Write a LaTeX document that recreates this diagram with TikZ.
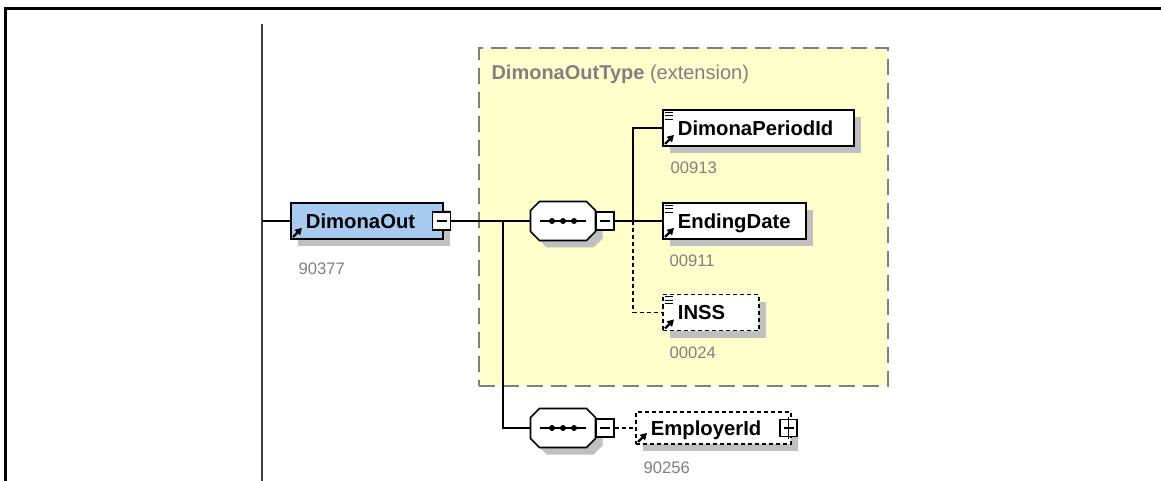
\documentclass[tikz,border=0pt]{standalone}
\usepackage{fontspec}
\setmainfont{Liberation Sans}
\usetikzlibrary{shadows,arrows.meta}

\definecolor{elemblue}{RGB}{166,202,240}
\definecolor{typeyellow}{RGB}{255,255,204}
\definecolor{shadegray}{RGB}{192,192,192}
\definecolor{idgray}{RGB}{128,128,128}

\tikzset{every picture/.style={line width=0.75pt}}
\tikzset{
  boxshade/.style={drop shadow={shadow xshift=5.25pt, shadow yshift=-5.25pt, fill=shadegray, opacity=1}},
  elembox/.style={draw, line width=1.4pt, fill=white, anchor=west, align=left, boxshade,
    inner xsep=11.25pt, inner ysep=0pt, minimum height=27pt, text height=10.8pt, text depth=0pt,
    font=\fontsize{15.2}{18}\selectfont\bfseries},
  optional/.style={dash pattern=on 3pt off 2.25pt},
  seqbox/.style={rectangle, minimum width=48pt, minimum height=28.5pt, inner sep=0pt},
  togglebox/.style={draw, line width=1.1pt, fill=white, minimum size=13.5pt, inner sep=0pt},
  idlabel/.style={anchor=west, text=idgray, inner sep=0pt, font=\fontsize{12.5}{15}\selectfont},
  wire/.style={line width=1.2pt}
}

% small glyphs inside the boxes
\newcommand{\refmark}[1]{\draw[line width=1.7pt, -{Triangle[length=5pt,width=5.5pt]}] ([shift={(3,-3)}]#1.south west) -- ([shift={(12,-12)}]#1.south west);}
\newcommand{\textmark}[1]{\foreach \dy in {3,6.5,10} \draw[line width=0.7pt] ([shift={(2.5,\dy)}]#1.north west) -- ([shift={(11,\dy)}]#1.north west);}
\newcommand{\seqshape}[1]{\draw[line width=1.3pt, fill=white, boxshade]
  ([shift={(9,0)}]#1.north west) -- ([shift={(-9,0)}]#1.north east) -- ([shift={(0,9)}]#1.north east)
  -- ([shift={(0,-9)}]#1.south east) -- ([shift={(-9,0)}]#1.south east) -- ([shift={(9,0)}]#1.south west)
  -- ([shift={(0,-9)}]#1.south west) -- ([shift={(0,9)}]#1.north west) -- cycle;
  \draw[line width=1.3pt] ([shift={(-23,0)}]#1.center) -- ([shift={(23,0)}]#1.center);
  \foreach \dx in {-11,0,11} \fill ([shift={(\dx,0)}]#1.center) circle (3);}
\newcommand{\minusmark}[1]{\draw[line width=1pt] ([shift={(-5,0)}]#1.center) -- ([shift={(5,0)}]#1.center);}
\newcommand{\plusmark}[1]{\minusmark{#1}\draw[line width=1pt] ([shift={(0,-11)}]#1.center) -- ([shift={(0,11)}]#1.center);}

\begin{document}
\begin{tikzpicture}[x=0.75pt,y=0.75pt,yscale=-1,xscale=1]
\useasboundingbox (0,0) rectangle (1161,481);

%Frame
\draw[line width=2.25pt] (5,481) -- (5,9) -- (1161,9);
%Root line
\draw[line width=1.5pt, black!75] (262,24) -- (262,481);
\coordinate (rootjoin) at (262,221);

%Shape: Rectangle (extension type)
\node[draw=idgray, dash pattern=on 12pt off 6pt, line width=1.5pt, fill=typeyellow, anchor=north west,
  minimum width=306.75pt, minimum height=253.5pt, inner sep=0pt] (outtype) at (478,47) {};
\node[anchor=west, text=idgray, inner sep=0pt, font=\fontsize{15}{18}\selectfont] (outtypelabel) at (491,74) {\textbf{DimonaOutType} (extension)};

%Junctions
\coordinate (forka) at (503,221);
\coordinate (forkb) at (633,221);

%Root element
\node[elembox, fill=elemblue, text width=91.5pt] (dimonaout) at (290,221) {DimonaOut};
\refmark{dimonaout}
\node[togglebox] (dimonaouttoggle) at (441.5,221) {};
\minusmark{dimonaouttoggle}
\node[idlabel] (dimonaoutid) at (298,269) {90377};

%Sequence (extension)
\node[seqbox] (seqa) at (563,221) {};
\seqshape{seqa}
\node[togglebox] (seqatoggle) at (605,221) {};
\minusmark{seqatoggle}

\node[elembox, text width=120.75pt] (periodid) at (662,128) {DimonaPeriodId};
\textmark{periodid}
\refmark{periodid}
\node[idlabel] (periodidid) at (670,168) {00913};

\node[elembox, text width=84.75pt] (endingdate) at (662,221) {EndingDate};
\textmark{endingdate}
\refmark{endingdate}
\node[idlabel] (endingdateid) at (669,261) {00911};

\node[elembox, optional, text width=49.5pt] (inss) at (662,312.5) {INSS};
\textmark{inss}
\refmark{inss}
\node[idlabel] (inssid) at (669,353) {00024};

%Sequence (base)
\node[seqbox] (seqb) at (563,428) {};
\seqshape{seqb}
\node[togglebox] (seqbtoggle) at (605,428) {};
\minusmark{seqbtoggle}

\node[elembox, optional, text width=93.75pt, minimum height=24pt] (employerid) at (635,428) {EmployerId};
\refmark{employerid}
\node[togglebox, minimum size=12.75pt] (employertoggle) at (788.5,428) {};
\plusmark{employertoggle}
\node[idlabel] (employeridid) at (643,468) {90256};

%Straight Lines
\draw[wire] (rootjoin) -- (dimonaout.west);
\draw[wire] (dimonaouttoggle.east) -- (seqa.west);
\draw[wire] (forka) |- (seqb.west);
\draw[wire] (seqatoggle.east) -- (endingdate.west);
\draw[wire] (forkb) |- (periodid.west);
\draw[wire, optional] (forkb) |- (inss.west);
\draw[wire, optional] (seqbtoggle.east) -- (employerid.west);

\end{tikzpicture}
\end{document}
